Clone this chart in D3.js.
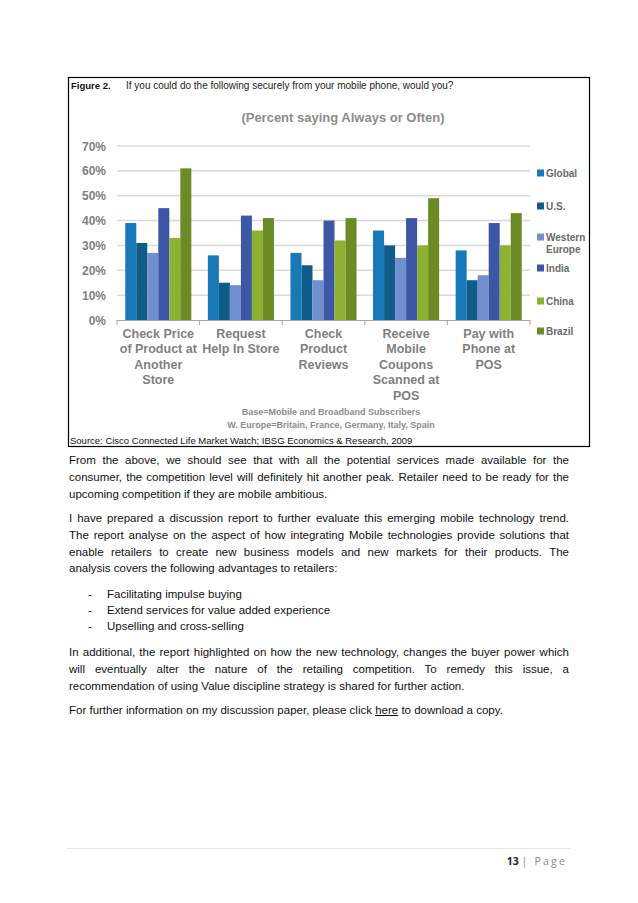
<!DOCTYPE html>
<html>
<head>
<meta charset="utf-8">
<script src="https://cdn.jsdelivr.net/npm/d3@7"></script>
<style>
  html, body { margin: 0; padding: 0; background: #fff; }
  #page { position: relative; width: 638px; height: 903px; overflow: hidden; }
  svg { position: absolute; left: 0; top: 0; }
  .line { position: absolute; left: 69px; width: 500px; font-family: "Liberation Sans", Arial, sans-serif; font-size: 11.5px; color: #111; white-space: nowrap; }
  .just { text-align: justify; text-align-last: justify; white-space: normal; }
</style>
</head>
<body>
<div id="page"></div>
<script>
// ---------- data ----------
const categories = [
  ["Check Price", "of Product at", "Another", "Store"],
  ["Request", "Help In Store"],
  ["Check", "Product", "Reviews"],
  ["Receive", "Mobile", "Coupons", "Scanned at", "POS"],
  ["Pay with", "Phone at", "POS"]
];
const seriesNames = ["Global", "U.S.", "Western Europe", "India", "China", "Brazil"];
const globalVals  = [39, 26, 27, 36, 28];
const usVals      = [31, 15, 22, 30, 16];
const weVals      = [27, 14, 16, 25, 18];
const indiaVals   = [45, 42, 40, 41, 39];
const chinaVals   = [33, 36, 32, 30, 30];
const brazilVals  = [61, 41, 41, 49, 43];
const seriesValues = [globalVals, usVals, weVals, indiaVals, chinaVals, brazilVals];
const seriesColors = ["#1879b9", "#0f5c89", "#6f8fcf", "#3d57a7", "#8db232", "#6c8b24"];
const yTicks = [0, 10, 20, 30, 40, 50, 60, 70];

const paragraphs = [
  {top: 464, lines: [
    "From the above, we should see that with all the potential services made available for the",
    "consumer, the competition level will definitely hit another peak. Retailer need to be ready for the",
    "upcoming competition if they are mobile ambitious."]},
  {top: 522, lines: [
    "I have prepared a discussion report to further evaluate this emerging mobile technology trend.",
    "The report analyse on the aspect of how integrating Mobile technologies provide solutions that",
    "enable retailers to create new business models and new markets for their products. The",
    "analysis covers the following advantages to retailers:"]},
  {top: 656, lines: [
    "In additional, the report highlighted on how the new technology, changes the buyer power which",
    "will eventually alter the nature of the retailing competition. To remedy this issue, a",
    "recommendation of using Value discipline strategy is shared for further action."]}
];
const bullets = ["Facilitating impulse buying", "Extend services for value added experience", "Upselling and cross-selling"];

// ---------- drawing ----------
const page = d3.select("#page");
const svg = page.append("svg").attr("width", 638).attr("height", 903);
const font = "'Liberation Sans', Arial, sans-serif";

// chart frame
svg.append("rect").attr("x", 68.5).attr("y", 77.5).attr("width", 521).attr("height", 369)
  .attr("fill", "none").attr("stroke", "#000").attr("stroke-width", 1.2);

svg.append("text").attr("x", 71).attr("y", 89).attr("font-family", font).attr("font-size", 9.5)
  .attr("font-weight", "bold").attr("fill", "#111").text("Figure 2.");
svg.append("text").attr("x", 126).attr("y", 89).attr("font-family", font).attr("font-size", 10)
  .attr("fill", "#222").text("If you could do the following securely from your mobile phone, would you?");
svg.append("text").attr("x", 343).attr("y", 122).attr("text-anchor", "middle").attr("font-family", font)
  .attr("font-size", 13).attr("font-weight", "bold").attr("fill", "#8c8c8c").text("(Percent saying Always or Often)");

const x0 = d3.scaleBand().domain(d3.range(categories.length)).range([117, 530]).paddingInner(0.2).paddingOuter(0.1);
const x1 = d3.scaleBand().domain(d3.range(seriesNames.length)).range([0, x0.bandwidth()]).padding(0);
const y = d3.scaleLinear().domain([0, 70]).range([320, 146]);

// gridlines
svg.append("g").selectAll("line").data(yTicks.filter(d => d > 0)).join("line")
  .attr("x1", 117).attr("x2", 530).attr("y1", d => y(d)).attr("y2", d => y(d))
  .attr("stroke", "#d9d9d9").attr("stroke-width", 1.5);

// y labels
svg.append("g").selectAll("text").data(yTicks).join("text")
  .attr("x", 106).attr("y", d => y(d) + 4.5).attr("text-anchor", "end")
  .attr("font-family", font).attr("font-size", 12).attr("font-weight", "bold").attr("fill", "#7f7f7f")
  .text(d => d + "%");

// bars
const groups = svg.append("g").selectAll("g").data(categories.map((c, i) => i)).join("g")
  .attr("transform", i => `translate(${x0(i)},0)`);
groups.selectAll("rect").data(i => seriesValues.map((vals, s) => ({s, v: vals[i]}))).join("rect")
  .attr("x", d => x1(d.s)).attr("width", x1.bandwidth())
  .attr("y", d => y(d.v)).attr("height", d => y(0) - y(d.v))
  .attr("fill", d => seriesColors[d.s]);

// x axis line and ticks
svg.append("line").attr("x1", 117).attr("x2", 530).attr("y1", 320.5).attr("y2", 320.5)
  .attr("stroke", "#a6a6a6").attr("stroke-width", 1);
const boundaries = d3.range(categories.length + 1).map(i => 117 + i * x0.step());
svg.append("g").selectAll("line").data(boundaries).join("line")
  .attr("x1", d => d).attr("x2", d => d).attr("y1", 320).attr("y2", 325)
  .attr("stroke", "#a6a6a6");

// category labels
categories.forEach((lines, i) => {
  const cx = x0(i) + x0.bandwidth() / 2;
  svg.append("text").attr("text-anchor", "middle").attr("font-family", font)
    .attr("font-size", 12.5).attr("font-weight", "bold").attr("fill", "#7f7f7f")
    .selectAll("tspan").data(lines).join("tspan")
    .attr("x", cx).attr("y", (d, k) => 338 + k * 15.4).text(d => d);
});

// legend
const legendY = [173, 206, 237, 268, 301, 331];
const legend = svg.append("g").selectAll("g").data(seriesNames).join("g")
  .attr("transform", (d, i) => `translate(537,${legendY[i]})`);
legend.append("rect").attr("x", 0).attr("y", -3.5).attr("width", 7).attr("height", 7)
  .attr("fill", (d, i) => seriesColors[i]);
legend.append("text").attr("font-family", font).attr("font-size", 10).attr("font-weight", "bold")
  .attr("fill", "#6a6a6a")
  .selectAll("tspan").data(d => d === "Western Europe" ? ["Western", "Europe"] : [d]).join("tspan")
  .attr("x", 9).attr("y", (d, k) => 3.5 + k * 12).text(d => d);

// base notes
svg.append("text").attr("x", 331).attr("y", 415).attr("text-anchor", "middle").attr("font-family", font)
  .attr("font-size", 9).attr("font-weight", "bold").attr("fill", "#8c8c8c").text("Base=Mobile and Broadband Subscribers");
svg.append("text").attr("x", 331).attr("y", 428).attr("text-anchor", "middle").attr("font-family", font)
  .attr("font-size", 9).attr("font-weight", "bold").attr("fill", "#8c8c8c").text("W. Europe=Britain, France, Germany, Italy, Spain");
svg.append("text").attr("x", 70).attr("y", 444).attr("font-family", font)
  .attr("font-size", 9.5).attr("fill", "#111").text("Source: Cisco Connected Life Market Watch; IBSG Economics & Research, 2009");

// footer
svg.append("line").attr("x1", 66).attr("x2", 570).attr("y1", 848.5).attr("y2", 848.5)
  .attr("stroke", "#e6e6e6").attr("stroke-width", 1);
const foot = svg.append("text").attr("x", 567).attr("y", 865).attr("text-anchor", "end")
  .attr("font-family", "'Open Sans', 'Liberation Sans', sans-serif").attr("font-size", 10.5);
foot.append("tspan").attr("font-weight", "bold").attr("fill", "#222").text("13 ");
foot.append("tspan").attr("fill", "#888").attr("letter-spacing", 2.2).text("| Page");

// body text
paragraphs.forEach(p => {
  p.lines.forEach((t, k) => {
    page.append("div").attr("class", "line" + (k < p.lines.length - 1 ? " just" : ""))
      .style("top", (p.top - 10 + k * 16.8) + "px").text(t);
  });
});
bullets.forEach((b, k) => {
  page.append("div").attr("class", "line").style("left", "88px").style("top", (598 - 10 + k * 16) + "px").text("-");
  page.append("div").attr("class", "line").style("left", "107px").style("top", (598 - 10 + k * 16) + "px").text(b);
});
const last = page.append("div").attr("class", "line").style("top", (714 - 10) + "px");
last.append("span").text("For further information on my discussion paper, please click ");
last.append("span").style("text-decoration", "underline").text("here");
last.append("span").text(" to download a copy.");
</script>
</body>
</html>
